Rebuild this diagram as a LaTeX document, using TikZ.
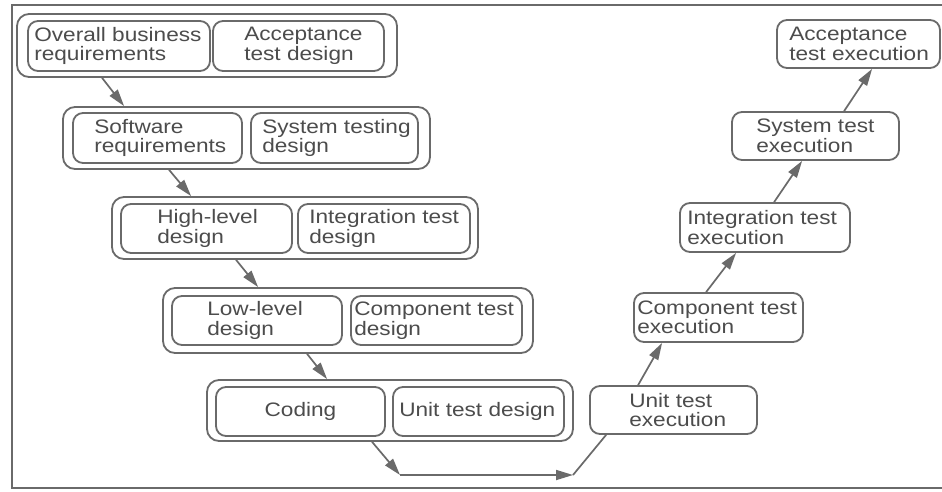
\documentclass[tikz,border=0pt]{standalone}
\usepackage{fontspec}
\setmainfont{Liberation Sans}[FakeStretch=1.16]
\usetikzlibrary{arrows.meta}
\definecolor{ln}{HTML}{6A6A6A}
\definecolor{tx}{HTML}{4C4C4C}
\begin{document}
\begin{tikzpicture}[x=1pt,y=-1pt,
  box/.style={draw=ln, line width=1.8pt, rounded corners=10pt, inner sep=0pt},
  grp/.style={draw=ln, line width=1.8pt, rounded corners=12pt, inner sep=0pt},
  txt/.style={text=tx, align=left, inner sep=0pt, font=\fontsize{19.5}{19.5}\selectfont},
  arr/.style={draw=ln, line width=1.7pt, -{Triangle[length=17pt,width=10pt]}},
  con/.style={draw=ln, line width=1.7pt}]
\useasboundingbox (0,0) rectangle (942,491);
\fill[white] (0,0) rectangle (942,491);
% outer frame
\draw[ln, line width=1.6pt] (960,5) -- (12,5) -- (12,488) -- (960,488);

% groups
\node[grp, minimum width=380pt, minimum height=63pt] (g1) at (207,45.5) {};
\node[grp, minimum width=367pt, minimum height=62pt] (g2) at (246.5,138) {};
\node[grp, minimum width=366pt, minimum height=62pt] (g3) at (295,228) {};
\node[grp, minimum width=370pt, minimum height=65pt] (g4) at (348,320.5) {};
\node[grp, minimum width=366pt, minimum height=61pt] (g5) at (390,410.5) {};

% inner boxes
\node[box, minimum width=182pt, minimum height=50pt] (ob) at (119,46) {};
\node[txt, anchor=west] (obt) at ([xshift=7pt]ob.west) {Overall business\\requirements};
\node[box, minimum width=171pt, minimum height=50pt] (atd) at (298.5,46) {};
\node[txt, anchor=west] (atdt) at ([xshift=32pt]atd.west) {Acceptance\\test design};

\node[box, minimum width=169pt, minimum height=50pt] (sr) at (157.5,138) {};
\node[txt, anchor=west] (srt) at ([xshift=22pt]sr.west) {Software\\requirements};
\node[box, minimum width=167pt, minimum height=50pt] (std) at (334.5,138) {};
\node[txt, anchor=west] (stdt) at ([xshift=12pt]std.west) {System testing\\design};

\node[box, minimum width=171pt, minimum height=49pt] (hld) at (206.5,228.5) {};
\node[txt, anchor=west] (hldt) at ([xshift=37pt]hld.west) {High-level\\design};
\node[box, minimum width=172pt, minimum height=49pt] (itd) at (384,228.5) {};
\node[txt, anchor=west] (itdt) at ([xshift=12pt]itd.west) {Integration test\\design};

\node[box, minimum width=170pt, minimum height=49pt] (lld) at (257,320.5) {};
\node[txt, anchor=west] (lldt) at ([xshift=36pt]lld.west) {Low-level\\design};
\node[box, minimum width=171pt, minimum height=49pt] (ctd) at (436.5,320.5) {};
\node[txt, anchor=west] (ctdt) at ([xshift=4pt]ctd.west) {Component test\\design};

\node[box, minimum width=169pt, minimum height=49pt] (cod) at (300.5,411.5) {};
\node[txt] (codt) at (cod.center) {Coding};
\node[box, minimum width=171pt, minimum height=49pt] (utd) at (478.5,411.5) {};
\node[txt, anchor=west] (utdt) at ([xshift=7pt]utd.west) {Unit test design};

% right column
\node[box, minimum width=167pt, minimum height=48pt] (ute) at (673.5,410) {};
\node[txt, anchor=west] (utet) at ([xshift=40pt]ute.west) {Unit test\\execution};
\node[box, minimum width=169pt, minimum height=49pt] (cte) at (718.5,317.5) {};
\node[txt, anchor=west] (ctet) at ([xshift=4pt]cte.west) {Component test\\execution};
\node[box, minimum width=170pt, minimum height=49pt] (ite) at (765,227.5) {};
\node[txt, anchor=west] (itet) at ([xshift=8pt]ite.west) {Integration test\\execution};
\node[box, minimum width=167pt, minimum height=48pt] (ste) at (815.5,136) {};
\node[txt, anchor=west] (stet) at ([xshift=25pt]ste.west) {System test\\execution};
\node[box, minimum width=163pt, minimum height=48pt] (ate) at (858.5,44) {};
\node[txt, anchor=west] (atet) at ([xshift=13pt]ate.west) {Acceptance\\test execution};

% connectors
\coordinate (c1) at (400,475);
\coordinate (c2) at (573,475);
\draw[arr] ([xshift=86pt]g1.south west) -- ([xshift=62pt]g2.north west);
\draw[arr] ([xshift=107pt]g2.south west) -- ([xshift=80pt]g3.north west);
\draw[arr] ([xshift=125pt]g3.south west) -- ([xshift=96pt]g4.north west);
\draw[arr] ([xshift=145pt]g4.south west) -- ([xshift=121pt]g5.north west);
\draw[arr] ([xshift=166pt]g5.south west) -- (c1);
\draw[arr] (c1) -- (c2);
\draw[con] (c2) -- ([xshift=17pt]ute.south west);
\draw[arr] ([xshift=49pt]ute.north west) -- ([xshift=29pt]cte.south west);
\draw[arr] ([xshift=73pt]cte.north west) -- ([xshift=57pt]ite.south west);
\draw[arr] ([xshift=95pt]ite.north west) -- ([xshift=71pt]ste.south west);
\draw[arr] ([xshift=113pt]ste.north west) -- ([xshift=96pt]ate.south west);
\end{tikzpicture}
\end{document}
